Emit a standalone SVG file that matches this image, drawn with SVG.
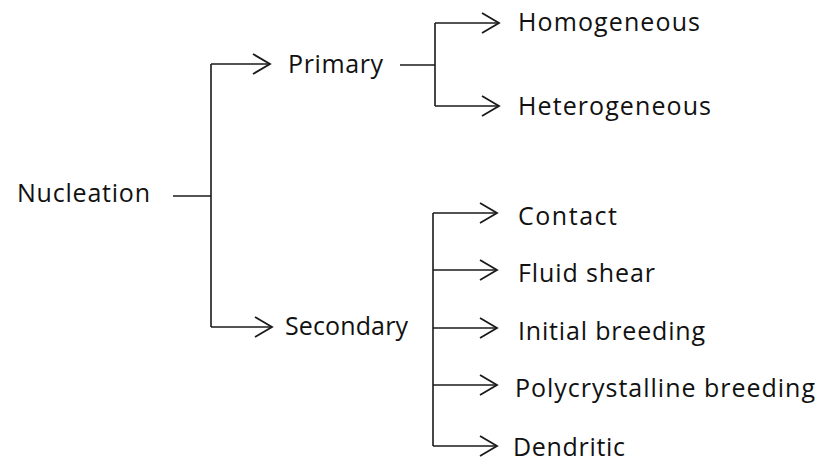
<svg xmlns="http://www.w3.org/2000/svg" width="819" height="463" viewBox="0 0 819 463">
<defs>
<marker id="arr" markerUnits="userSpaceOnUse" markerWidth="22" markerHeight="24" refX="18" refY="11" orient="auto">
<path d="M1,1 L18,11 L1,21" fill="none" stroke="#1a1a1a" stroke-width="1.8"/>
</marker>
</defs>
<style>
text{font-family:"Open Sans","Liberation Sans",sans-serif;font-size:25px;fill:#111}
.c{fill:none;stroke:#1a1a1a;stroke-width:1.6}
</style>
<rect width="819" height="463" fill="#fff"/>
<g id="connectors">
<path class="c" d="M173,196 H211"/>
<path class="c" d="M211,64 V327"/>
<path class="c" d="M211,64 H270" marker-end="url(#arr)"/>
<path class="c" d="M211,327 H272" marker-end="url(#arr)"/>
<path class="c" d="M400,65 H435"/>
<path class="c" d="M435,23 V106"/>
<path class="c" d="M435,23 H499" marker-end="url(#arr)"/>
<path class="c" d="M435,106 H499" marker-end="url(#arr)"/>
<path class="c" d="M433,213 V446"/>
<path class="c" d="M433,213 H497" marker-end="url(#arr)"/>
<path class="c" d="M433,270 H497" marker-end="url(#arr)"/>
<path class="c" d="M433,328 H497" marker-end="url(#arr)"/>
<path class="c" d="M433,385 H497" marker-end="url(#arr)"/>
<path class="c" d="M433,446 H497" marker-end="url(#arr)"/>
</g>
<g id="nucleation"><text x="17" y="202" textLength="133" lengthAdjust="spacing">Nucleation</text></g>
<g id="primary"><text x="288" y="73" textLength="95" lengthAdjust="spacing">Primary</text></g>
<g id="secondary"><text x="285" y="335" textLength="123" lengthAdjust="spacing">Secondary</text></g>
<g id="homogeneous"><text x="518" y="31" textLength="182" lengthAdjust="spacing">Homogeneous</text></g>
<g id="heterogeneous"><text x="518" y="115" textLength="193" lengthAdjust="spacing">Heterogeneous</text></g>
<g id="contact"><text x="518" y="225" textLength="99" lengthAdjust="spacing">Contact</text></g>
<g id="fluid-shear"><text x="518" y="282" textLength="137" lengthAdjust="spacing">Fluid shear</text></g>
<g id="initial-breeding"><text x="518" y="340" textLength="187" lengthAdjust="spacing">Initial breeding</text></g>
<g id="polycrystalline-breeding"><text x="515" y="397" textLength="300" lengthAdjust="spacing">Polycrystalline breeding</text></g>
<g id="dendritic"><text x="513" y="456" textLength="112" lengthAdjust="spacing">Dendritic</text></g>
</svg>
